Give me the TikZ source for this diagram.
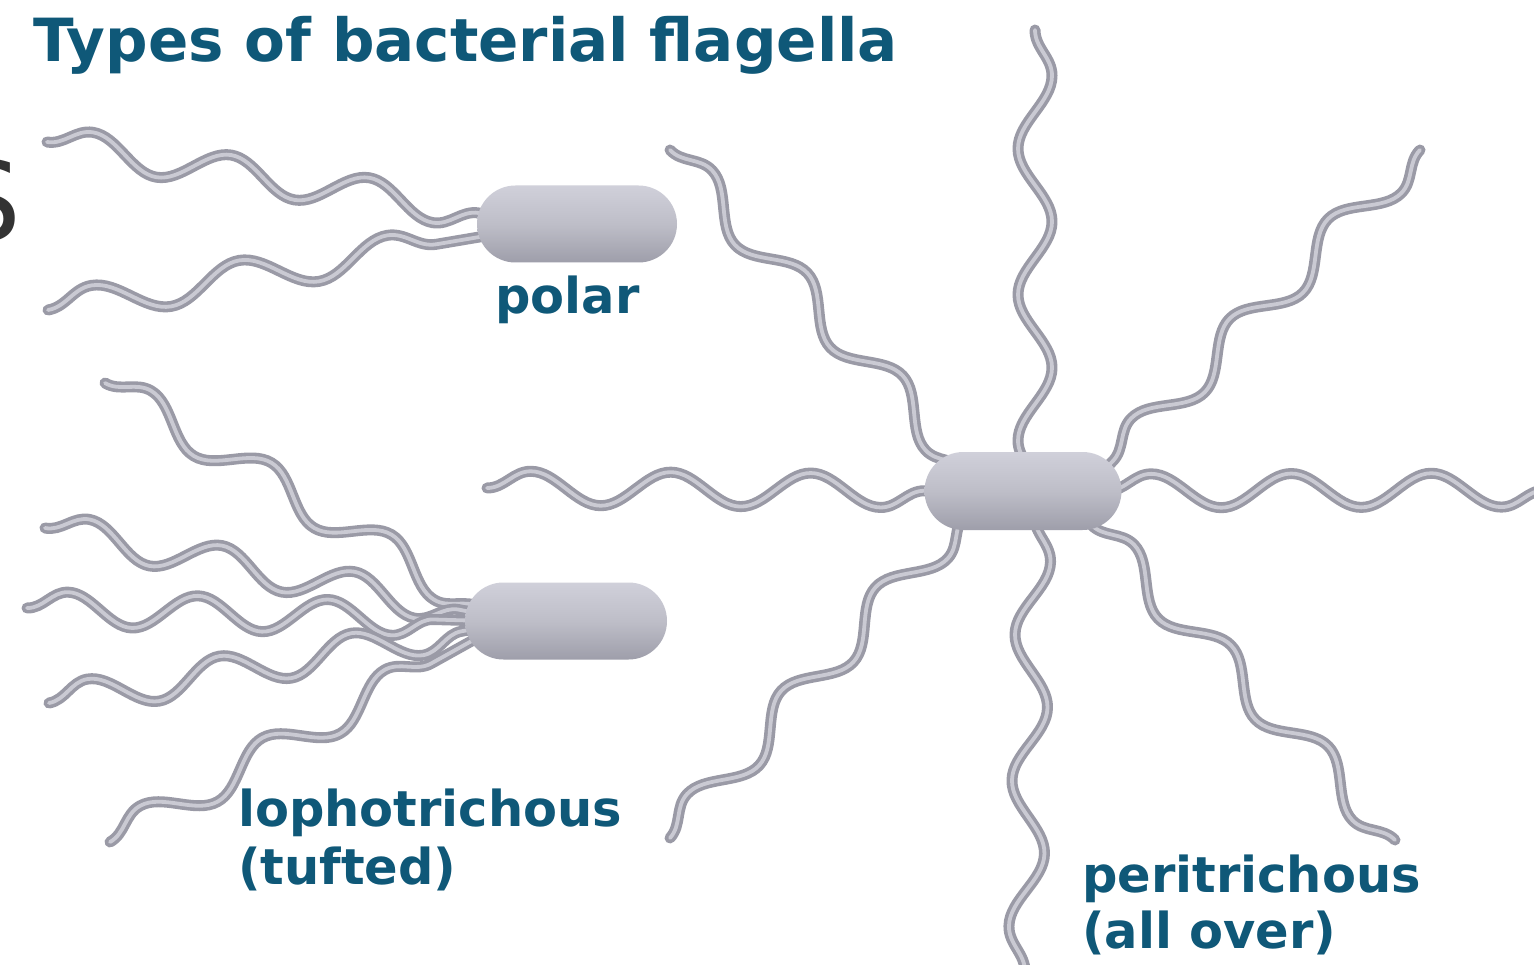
\documentclass[tikz,border=0pt]{standalone}
\usepackage{fontspec}
\usetikzlibrary{shapes.misc,decorations.pathmorphing,calc}
\newfontfamily\labelfont{DejaVu Sans}
\definecolor{inkblue}{HTML}{0F5878}
\definecolor{inkgray}{HTML}{333333}
\definecolor{flagedge}{HTML}{9A9AA6}
\definecolor{flagcore}{HTML}{CACAD3}
\definecolor{bodyhi}{HTML}{D0D0DA}
\definecolor{bodymid}{HTML}{BEBEC8}
\definecolor{bodylo}{HTML}{9E9EAA}
\pgfdeclarelayer{paper}
\pgfdeclarelayer{flagella}
\pgfsetlayers{paper,flagella,main}
\begin{document}
\begin{tikzpicture}[x=1pt,y=-1pt,
  cell/.style={rounded rectangle, minimum width=200pt, minimum height=77pt,
    inner sep=0pt, top color=bodyhi, bottom color=bodylo, middle color=bodymid},
  flag/.style={decorate, decoration={snake, amplitude=17pt, segment length=#1},
    draw=flagedge, double=flagcore, line width=3.6pt, double distance=3.8pt,
    line cap=round, line join=round},
  flag/.default=145pt,
  caption/.style={anchor=base west, inner sep=0pt, text=inkblue,
    font=\labelfont\bfseries\fontsize{49.5}{58}\selectfont},
]
\useasboundingbox (0,0) rectangle (1534,965);
\begin{pgfonlayer}{paper}
  \fill[white] (0,0) rectangle (1534,965);
\end{pgfonlayer}

% title and the clipped letter at the left edge
\node[anchor=base west, inner sep=0pt, text=inkblue,
  font=\labelfont\bfseries\fontsize{59.5}{70}\selectfont] (title) at (33,62)
  {Types of bacterial flagella};
\node[anchor=base east, inner sep=0pt, text=inkgray,
  font=\labelfont\fontsize{110}{120}\selectfont] (edgeS) at (22,241) {S};

% cell bodies
\node[cell] (pb) at (577,224) {};
\node[cell, minimum width=202pt] (lb) at (566,621) {};
\node[cell, minimum width=197pt, minimum height=78pt] (rb) at (1023,491) {};

% captions
\node[caption] (polarlbl) at (495,314) {polar};
\node[caption] (lophlbl) at (238,826) {lophotrichous};
\node[caption] (lophsub) at (238,884) {(tufted)};
\node[caption] (perilbl) at (1082,892) {peritrichous};
\node[caption] (perisub) at (1082,948) {(all over)};

% free ends of the flagella
\coordinate (p1) at (47,142);
\coordinate (p2) at (48,310);
\coordinate (l1) at (105,383);
\coordinate (l2) at (45,528);
\coordinate (l3) at (27,608);
\coordinate (l4) at (49,703);
\coordinate (l5) at (110,842);
\coordinate (rn) at (1035,30);
\coordinate (rnw) at (670,150);
\coordinate (rne) at (1420,150);
\coordinate (rw) at (487,488);
\coordinate (re) at (1545,490);
\coordinate (rsw) at (670,838);
\coordinate (rs) at (1025,972);
\coordinate (rse) at (1395,840);

\begin{pgfonlayer}{flagella}
  % polar
  \draw[flag=140pt] (p1) -- ($(pb.center)+(-80,-8)$);
  \draw[flag=150pt] (p2) -- ($(pb.center)+(-80,10)$);
  % lophotrichous tuft
  \draw[flag=140pt] (l1) -- ($(lb.center)+(-80,-10)$);
  \draw[flag=135pt] (l2) -- ($(lb.center)+(-80,-6)$);
  \draw[flag=130pt] (l3) -- ($(lb.center)+(-80,0)$);
  \draw[flag=134pt] (l4) -- ($(lb.center)+(-80,6)$);
  \draw[flag=140pt] (l5) -- ($(lb.center)+(-80,12)$);
  % peritrichous
  \draw[flag=146pt] (rn) -- ($(rb.center)+(12,0)$);
  \draw[flag=140pt] (rnw) -- ($(rb.center)+(-55,-20)$);
  \draw[flag=140pt] (rne) -- ($(rb.center)+(85,-25)$);
  \draw[flag=140pt] (rw) -- ($(rb.center)+(-60,0)$);
  \draw[flag=140pt] (re) -- ($(rb.center)+(60,0)$);
  \draw[flag=140pt] (rsw) -- ($(rb.center)+(-55,20)$);
  \draw[flag=146pt] (rs) -- ($(rb.center)+(12,0)$);
  \draw[flag=140pt] (rse) -- ($(rb.center)+(55,20)$);
\end{pgfonlayer}
\end{tikzpicture}
\end{document}
